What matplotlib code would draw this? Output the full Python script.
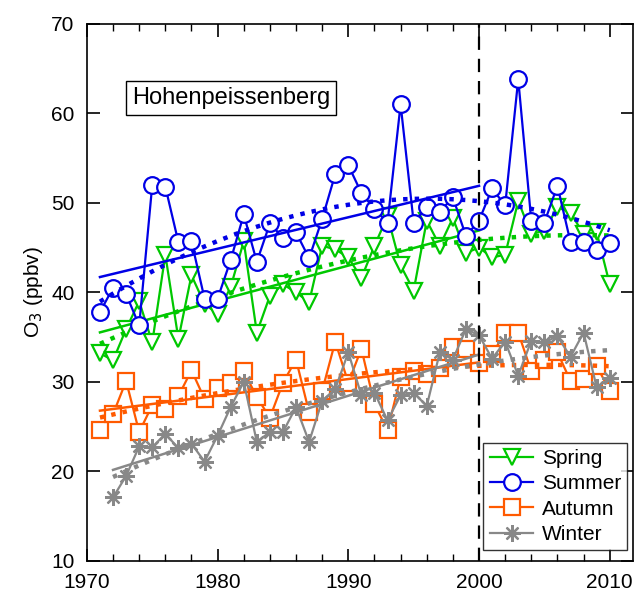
import numpy as np
import matplotlib
matplotlib.use('Agg')
import matplotlib.pyplot as plt
from matplotlib.lines import Line2D

plt.rcParams['font.family'] = ['Liberation Sans', 'DejaVu Sans']

years = np.arange(1971, 2011)
spring = [33.2, 32.4, 35.9, 39.0, 34.4, 44.2, 34.8, 41.9, 38.7, 37.6,
          40.6, 45.7, 35.5, 39.6, 40.9, 40.0, 38.9, 45.2, 44.8, 43.9,
          41.6, 45.2, 48.5, 43.0, 40.2, 48.0, 45.2, 48.3, 44.4, 45.0,
          43.9, 44.2, 50.2, 46.5, 46.9, 49.5, 48.9, 46.5, 46.7, 40.9]
summer = [37.8, 40.5, 39.8, 36.3, 52.0, 51.8, 45.6, 45.7, 39.3, 39.3,
          43.6, 48.7, 43.4, 47.7, 46.1, 46.7, 43.8, 48.2, 53.2, 54.2,
          51.1, 49.3, 47.8, 61.0, 47.8, 49.5, 49.0, 50.6, 46.3, 48.0,
          51.6, 49.7, 63.8, 48.0, 47.8, 51.9, 45.6, 45.6, 44.7, 45.5]
autumn = [24.6, 26.4, 30.1, 24.4, 27.4, 27.0, 28.4, 31.3, 28.1, 29.3,
          29.9, 31.2, 28.3, 26.0, 29.9, 32.5, 26.6, 29.0, 34.5, 29.9,
          33.7, 27.5, 24.6, 30.5, 31.2, 30.9, 31.6, 33.9, 33.7, 32.1,
          33.1, 35.5, 35.5, 31.2, 32.5, 33.3, 30.1, 30.3, 31.8, 29.0]
winter_years = np.arange(1972, 2011)
winter = [17.1, 19.5, 22.8, 22.7, 24.2, 22.6, 23.1, 21.1, 24.0,
          27.2, 30.0, 23.3, 24.4, 24.4, 27.2, 23.3, 27.9, 29.2, 33.3,
          28.5, 28.8, 25.7, 28.5, 28.8, 27.3, 33.3, 32.5, 35.9, 35.2,
          32.6, 34.5, 30.7, 34.6, 34.4, 35.1, 32.8, 35.5, 29.4, 30.4]

labels = ['Spring', 'Summer', 'Autumn', 'Winter']
colors = ['#00c800', '#0000e6', '#ff5a00', '#888888']
markers = ['v', 'o', 's', (8, 2, 0)]
series = [(years, spring), (years, summer), (years, autumn), (winter_years, winter)]

fig = plt.figure(figsize=(6.39, 5.93), dpi=100)
ax = fig.add_axes([0.136, 0.054, 0.855, 0.906])

handles = []
for (x, y), lab, c, m in zip(series, labels, colors, markers):
    x = np.asarray(x, dtype=float)
    y = np.asarray(y, dtype=float)
    ax.plot(x, y, color=c, lw=1.6, marker=m, ms=12, mfc='white',
            mec=c, mew=1.6)
    # linear trend up to 2000
    sel = x <= 2000
    p1 = np.polyfit(x[sel], y[sel], 1)
    ax.plot(x[sel], np.polyval(p1, x[sel]), color=c, lw=1.8)
    # quadratic fit over all years
    p2 = np.polyfit(x, y, 2)
    ax.plot(x, np.polyval(p2, x), color=c, lw=3.2, ls=(0, (1, 1.6)))
    handles.append(Line2D([], [], color=c, lw=1.6, marker=m, ms=12,
                          mfc='white', mec=c, mew=1.6))

ax.axvline(2000, color='black', lw=1.6, ls=(0, (6, 4)))

ax.set_xlim(1970, 2011.8)
ax.set_ylim(10, 70)
ax.set_xticks(np.arange(1970, 2011, 10))
ax.set_xticks(np.arange(1972, 2011, 2), minor=True)
ax.set_yticks(np.arange(10, 71, 10))
ax.tick_params(axis='both', which='major', direction='in', length=9,
               width=1.2, labelsize=15, top=True, right=True)
ax.tick_params(axis='x', which='major', pad=9)
ax.tick_params(axis='y', which='major', pad=9)
ax.tick_params(axis='x', which='minor', direction='in', length=5,
               width=1.0, top=True)
for s in ax.spines.values():
    s.set_linewidth(1.2)
ax.set_ylabel('O$_3$ (ppbv)', fontsize=15)

ax.text(0.083, 0.862, 'Hohenpeissenberg', transform=ax.transAxes,
        fontsize=17, ha='left', va='center',
        bbox=dict(boxstyle='square,pad=0.25', fc='white', ec='black', lw=1))

leg = ax.legend(handles, labels, loc='lower right', fontsize=15,
                frameon=True, fancybox=False, edgecolor='black',
                handlelength=2.1, borderpad=0.3, labelspacing=0.3,
                handletextpad=0.4, borderaxespad=0,
                bbox_to_anchor=(0.989, 0.02))
leg.get_frame().set_linewidth(1.0)

fig.savefig('out.png', dpi=100)
